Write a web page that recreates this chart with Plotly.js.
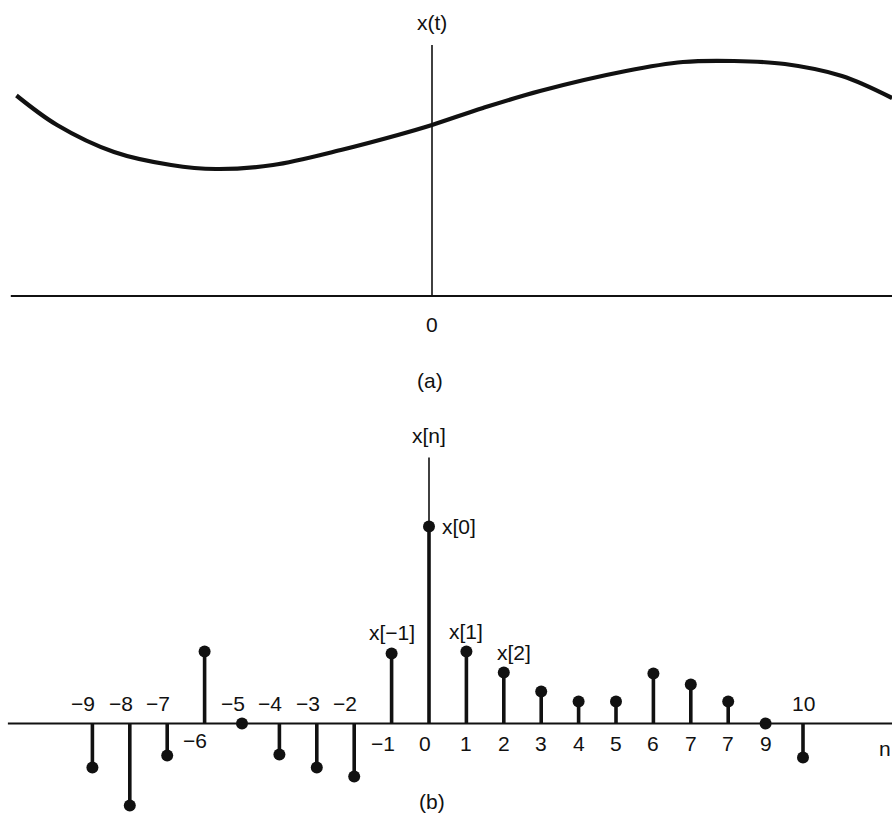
<!DOCTYPE html>
<html>
<head>
<meta charset="utf-8">
<script src="https://cdn.plot.ly/plotly-3.0.1.min.js"></script>
<style>html,body{margin:0;padding:0;background:#fff;}#chart{width:892px;height:819px;}</style>
</head>
<body>
<div id="chart"></div>
<script>
// ---- Panel (a): continuous signal x(t) ----
const tValues = [-0.962, -0.868, -0.736, -0.604, -0.5, -0.368, -0.211, -0.079, 0, 0.118, 0.25, 0.449, 0.581, 0.699, 0.817, 0.949, 1.065];
const xtValues = [2.005, 1.71, 1.44, 1.31, 1.27, 1.31, 1.46, 1.61, 1.71, 1.88, 2.05, 2.25, 2.34, 2.35, 2.32, 2.20, 1.98];

// ---- Panel (b): discrete signal x[n] ----
const nValues = [-9, -8, -7, -6, -5, -4, -3, -2, -1, 0, 1, 2, 3, 4, 5, 6, 7, 8, 9, 10];
const xnValues = [-2.2, -4.1, -1.6, 3.6, 0, -1.55, -2.2, -2.65, 3.5, 9.85, 3.6, 2.55, 1.6, 1.1, 1.1, 2.5, 1.95, 1.1, 0, -1.7];
const nTickLabels = ["−9", "−8", "−7", "−6", "−5", "−4", "−3", "−2", "−1", "0", "1", "2", "3", "4", "5", "6", "7", "7", "9", "10"];
const sampleLabels = ["x[−1]", "x[0]", "x[1]", "x[2]"];
const sampleLabelN = [-1, 0, 1, 2];

const FONT = {family: "Liberation Sans, Arial, Helvetica, sans-serif", size: 21, color: "#111"};
const INK = "#111";

// stems built from the data arrays
const stemX = [], stemY = [];
nValues.forEach((n, i) => { stemX.push(n, n, null); stemY.push(0, xnValues[i], null); });

const traces = [
  {x: tValues, y: xtValues, xaxis: "x", yaxis: "y", mode: "lines",
   line: {color: INK, width: 4.2, shape: "spline", smoothing: 1}, hoverinfo: "skip"},
  {x: stemX, y: stemY, xaxis: "x2", yaxis: "y2", mode: "lines",
   line: {color: INK, width: 3.6}, hoverinfo: "skip"},
  {x: nValues, y: xnValues, xaxis: "x2", yaxis: "y2", mode: "markers",
   marker: {color: INK, size: 12}, hoverinfo: "skip"}
];

// tick label placement (style)
const labelAbove = [true, true, true, false, true, true, true, true, false, false,
                    false, false, false, false, false, false, false, false, false, true];

const annotations = [];
nValues.forEach((n, i) => {
  const neg = nTickLabels[i].startsWith("−");
  let xs = neg ? -9 : 0;
  if (nTickLabels[i] === "0") xs = -4;
  if (nTickLabels[i] === "−6") xs = -10;
  annotations.push({x: n, y: 0, xref: "x2", yref: "y2", text: nTickLabels[i], showarrow: false,
    font: FONT, xanchor: "center", yanchor: "middle", xshift: xs,
    yshift: labelAbove[i] ? 20 : (nTickLabels[i] === "−6" ? -17 : -20)});
});
const sampleShift = {"-1": [0, 21, "center"], "0": [11, 0, "left"], "1": [0, 20, "center"], "2": [10, 20, "center"]};
sampleLabelN.forEach((n, k) => {
  const i = nValues.indexOf(n);
  const s = sampleShift[String(n)];
  annotations.push({x: n, y: xnValues[i], xref: "x2", yref: "y2", text: sampleLabels[k], showarrow: false,
    font: FONT, xanchor: s[2], yanchor: "middle", xshift: s[0], yshift: s[1]});
});
annotations.push(
  {x: 0, y: 2.74, xref: "x", yref: "y", text: "x(t)", showarrow: false, font: FONT, xanchor: "center", yanchor: "middle"},
  {x: 0, y: -0.28, xref: "x", yref: "y", text: "0", showarrow: false, font: FONT, xanchor: "center", yanchor: "middle"},
  {x: 1.07, y: -0.26, xref: "x", yref: "y", text: "t", showarrow: false, font: FONT, xanchor: "center", yanchor: "middle"},
  {x: 0.482, y: 1 - 380 / 819, xref: "paper", yref: "paper", text: "(a)", showarrow: false, font: FONT, xanchor: "center", yanchor: "middle"},
  {x: 0, y: 14.4, xref: "x2", yref: "y2", text: "x[n]", showarrow: false, font: FONT, xanchor: "center", yanchor: "middle"},
  {x: 12.19, y: -1.225, xref: "x2", yref: "y2", text: "n", showarrow: false, font: FONT, xanchor: "center", yanchor: "middle"},
  {x: 0.4843, y: 1 - 801 / 819, xref: "paper", yref: "paper", text: "(b)", showarrow: false, font: FONT, xanchor: "center", yanchor: "middle"}
);

const shapes = [
  {type: "line", xref: "x", yref: "y", x0: -0.975, x1: 1.1, y0: 0, y1: 0, line: {color: INK, width: 2.2}},
  {type: "line", xref: "x", yref: "y", x0: 0, x1: 0, y0: 0, y1: 2.51, line: {color: INK, width: 1.6}},
  {type: "line", xref: "x2", yref: "y2", x0: -11.26, x1: 12.6, y0: 0, y1: 0, line: {color: INK, width: 2.2}},
  {type: "line", xref: "x2", yref: "y2", x0: 0, x1: 0, y0: 0, y1: 13.3, line: {color: INK, width: 1.6}}
];

const hidden = {visible: false, showgrid: false, zeroline: false, fixedrange: true};
const layout = {
  width: 892, height: 819,
  margin: {l: 0, r: 0, t: 0, b: 0},
  paper_bgcolor: "#ffffff", plot_bgcolor: "rgba(0,0,0,0)",
  showlegend: false,
  xaxis: Object.assign({}, hidden, {domain: [0, 1], range: [-1, 460 / 432], anchor: "y"}),
  yaxis: Object.assign({}, hidden, {domain: [1 - 330 / 819, 1], range: [-0.34, 2.96], anchor: "x"}),
  xaxis2: Object.assign({}, hidden, {domain: [0, 1], range: [-429 / 37.4, 463 / 37.4], anchor: "y2"}),
  yaxis2: Object.assign({}, hidden, {domain: [0, 399 / 819], range: [-4.775, 15.175], anchor: "x2"}),
  shapes: shapes,
  annotations: annotations
};

Plotly.newPlot("chart", traces, layout, {staticPlot: true, displayModeBar: false});
</script>
</body>
</html>
